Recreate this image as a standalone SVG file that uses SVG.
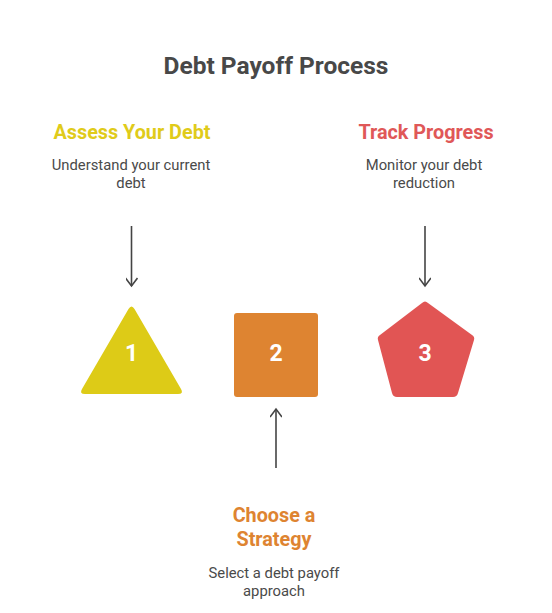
<svg xmlns="http://www.w3.org/2000/svg" width="552" height="613" viewBox="0 0 552 613">
<style>
.title{font-family:Roboto,"Liberation Sans",sans-serif;font-weight:bold;font-size:24.5px;fill:#484848;text-anchor:middle}
.head{font-family:Roboto,"Liberation Sans",sans-serif;font-weight:bold;font-size:19.8px;text-anchor:middle}
.desc{font-family:Roboto,"Liberation Sans",sans-serif;font-size:14.8px;fill:#4a4a4a;text-anchor:middle}
.num{font-family:Roboto,"Liberation Sans",sans-serif;font-weight:bold;font-size:23px;fill:#ffffff;text-anchor:middle}
.conn{stroke:#444444;stroke-width:1.6;fill:none}
</style>
<defs>
<marker id="arr" viewBox="0 0 12 12" refX="10" refY="6" markerWidth="12" markerHeight="12" markerUnits="userSpaceOnUse" orient="auto">
<path d="M2,0 L10,6 L2,12" fill="none" stroke="#444444" stroke-width="1.6"/>
</marker>
</defs>
<rect width="552" height="613" fill="#ffffff"/>
<text class="title" x="276" y="74">Debt Payoff Process</text>
<g id="connectors">
<line class="conn" x1="131.5" y1="226" x2="131.5" y2="286" marker-end="url(#arr)"/>
<line class="conn" x1="425" y1="226" x2="425" y2="286" marker-end="url(#arr)"/>
<line class="conn" x1="276" y1="468" x2="276" y2="409" marker-end="url(#arr)"/>
</g>
<g id="step1">
<path d="M128.5,309 Q131.5,304 134.5,309 L181,389 Q184,394 178,394 L85,394 Q79,394 82,389 Z" fill="#DDCB17"/>
<text class="num" x="131.5" y="361">1</text>
<text class="head" x="132" y="139" fill="#E0CB1A">Assess Your Debt</text>
<text class="desc" x="131" y="170">Understand your current</text>
<text class="desc" x="131" y="188">debt</text>
</g>
<g id="step2">
<rect x="234" y="313" width="84" height="84" rx="3" fill="#DE8431"/>
<text class="num" x="276" y="361">2</text>
<text class="head" x="274" y="522" fill="#DE8431">Choose a</text>
<text class="head" x="274" y="546" fill="#DE8431">Strategy</text>
<text class="desc" x="274" y="578">Select a debt payoff</text>
<text class="desc" x="274" y="596">approach</text>
</g>
<g id="step3">
<path d="M422,303 Q425,300 428,303 L472,335 Q475,337 474,340 L458,393 Q457,397 453,397 L397,397 Q393,397 392,393 L378,340 Q377,337 380,335 Z" fill="#E15554"/>
<text class="num" x="425" y="361">3</text>
<text class="head" x="426" y="139" fill="#E05858">Track Progress</text>
<text class="desc" x="424" y="170">Monitor your debt</text>
<text class="desc" x="424" y="188">reduction</text>
</g>
</svg>
